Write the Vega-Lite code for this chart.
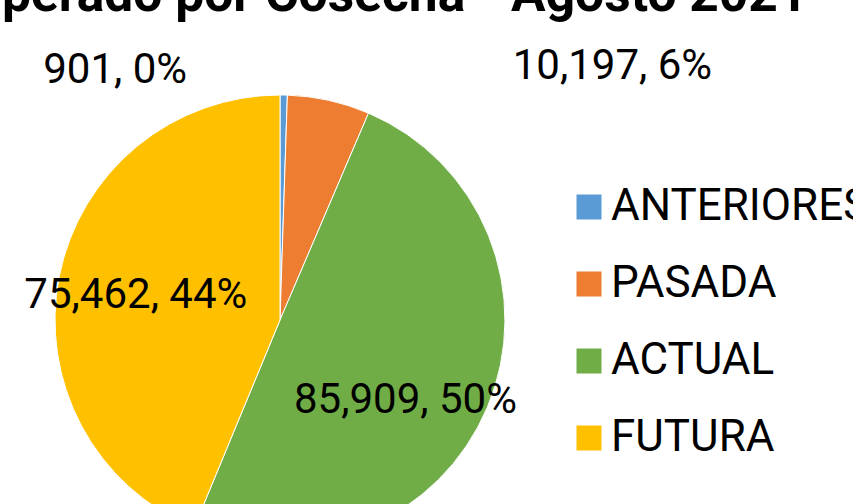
{
  "$schema": "https://vega.github.io/schema/vega-lite/v6.json",
  "width": 450,
  "height": 450,
  "autosize": {"type": "none"},
  "padding": {"left": 55, "top": 95, "right": 348, "bottom": 0},
  "background": "white",
  "title": {
    "text": "perado por Cosecha - Agosto 2021",
    "anchor": "start",
    "frame": "group",
    "dx": -53,
    "dy": 23,
    "offset": 0,
    "baseline": "alphabetic",
    "font": "Roboto",
    "fontWeight": "bold",
    "fontSize": 51.5,
    "color": "#000000"
  },
  "data": {
    "values": [
      {"cosecha": "ANTERIORES", "idx": 1, "valor": 901, "label": "901, 0%"},
      {"cosecha": "PASADA", "idx": 2, "valor": 10197, "label": "10,197, 6%"},
      {"cosecha": "ACTUAL", "idx": 3, "valor": 85909, "label": "85,909, 50%"},
      {"cosecha": "FUTURA", "idx": 4, "valor": 75462, "label": "75,462, 44%"}
    ]
  },
  "encoding": {
    "theta": {"field": "valor", "type": "quantitative", "stack": true},
    "order": {"field": "idx", "type": "quantitative"}
  },
  "layer": [
    {
      "mark": {"type": "arc", "stroke": "white", "strokeWidth": 1},
      "encoding": {
        "color": {
          "field": "cosecha",
          "type": "nominal",
          "sort": ["ANTERIORES", "PASADA", "ACTUAL", "FUTURA"],
          "scale": {
            "domain": ["ANTERIORES", "PASADA", "ACTUAL", "FUTURA"],
            "range": ["#5B9BD5", "#ED7D31", "#70AD47", "#FFC000"]
          },
          "legend": {
            "title": null,
            "orient": "none",
            "legendX": 512,
            "legendY": 90,
            "symbolType": "square",
            "symbolSize": 625,
            "symbolStrokeWidth": 0,
            "labelFont": "Roboto",
            "labelFontSize": 44,
            "labelColor": "#000000",
            "labelOffset": 0,
            "rowPadding": 33,
            "labelLimit": 400
          }
        }
      }
    },
    {
      "mark": {"type": "text", "radius": 252, "dx": -169, "dy": 2, "font": "Roboto", "fontSize": 42, "color": "#000000", "baseline": "middle", "align": "center"},
      "encoding": {
        "text": {"condition": {"test": "datum.cosecha === 'ANTERIORES'", "field": "label"}, "value": ""}
      }
    },
    {
      "mark": {"type": "text", "radius": 260, "dx": 276, "dy": 0, "font": "Roboto", "fontSize": 42, "color": "#000000", "baseline": "middle", "align": "center"},
      "encoding": {
        "text": {"condition": {"test": "datum.cosecha === 'PASADA'", "field": "label"}, "value": ""}
      }
    },
    {
      "mark": {"type": "text", "radius": 147, "dx": -10, "dy": 23, "font": "Roboto", "fontSize": 42, "color": "#000000", "baseline": "middle", "align": "center"},
      "encoding": {
        "text": {"condition": {"test": "datum.cosecha === 'ACTUAL'", "field": "label"}, "value": ""}
      }
    },
    {
      "mark": {"type": "text", "radius": 147, "dx": 0, "dy": 4, "font": "Roboto", "fontSize": 42, "color": "#000000", "baseline": "middle", "align": "center"},
      "encoding": {
        "text": {"condition": {"test": "datum.cosecha === 'FUTURA'", "field": "label"}, "value": ""}
      }
    }
  ],
  "config": {"view": {"stroke": null}}
}
